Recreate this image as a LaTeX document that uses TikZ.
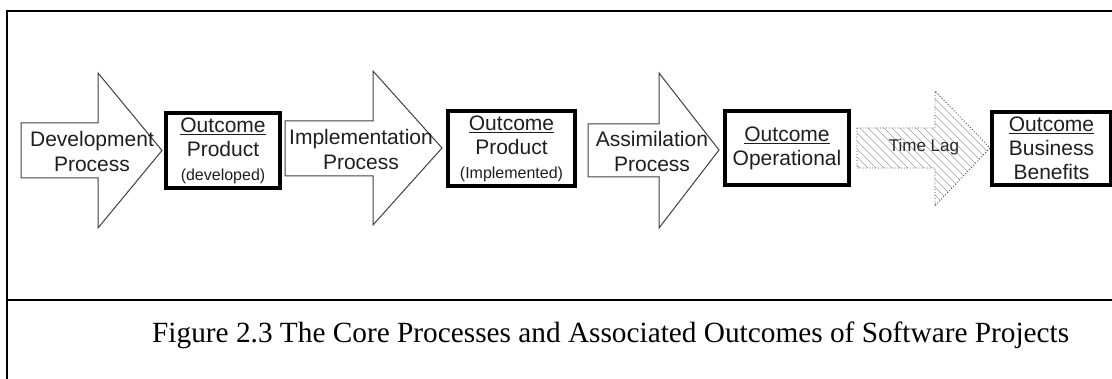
\documentclass[tikz,border=0pt]{standalone}
\usepackage{fontspec}
\setmainfont{Liberation Sans}
\newfontfamily\capfont{Liberation Serif}
\definecolor{edgegray}{HTML}{404040}
\definecolor{hatchgray}{HTML}{A0A0A0}
\begin{document}
\begin{tikzpicture}[x=1pt, y=-1pt,
  procarrow/.style={draw=edgegray, line width=1pt, line join=miter, fill=white},
  lagedge/.style={draw=edgegray, line width=0.9pt, dotted},
  hatch/.style={draw=hatchgray, line width=0.5pt},
  outcome/.style={draw=black, line width=3.5pt, rectangle, inner sep=0pt, align=center,
    text=black!88, font=\fontsize{21}{24}\selectfont},
  proclabel/.style={inner sep=0pt, align=center, text=black!88, font=\fontsize{21}{25}\selectfont},
  frame/.style={draw=black, line width=2pt}]
\useasboundingbox (0,0) rectangle (1112,379);

% outer frame and caption divider
\draw[frame] (7,379) -- (7,11) -- (1112,11);
\draw[frame] (7,300) -- (1112,300);

% process arrows
\draw[procarrow] (21,123) -- (98,123) -- (98,73) -- (162,150.5) -- (98,228) -- (98,178) -- (21,178) -- cycle;
\draw[procarrow] (285,121) -- (373,121) -- (373,71) -- (442,148) -- (373,225) -- (373,176) -- (285,176) -- cycle;
\draw[procarrow] (588,124) -- (659,124) -- (659,73) -- (719,150) -- (659,228) -- (659,177) -- (588,177) -- cycle;

% time-lag arrow: diagonal hatching clipped to the outline, dotted edge
\begin{scope}
  \clip (857,128) -- (935,128) -- (935,91) -- (990,148) -- (935,206) -- (935,168) -- (857,168) -- cycle;
  \foreach \s in {700,708,...,1000}
    \draw[hatch] (\s,80) -- ++(140,140);
\end{scope}
\draw[lagedge] (857,128) -- (935,128) -- (935,91) -- (990,148) -- (935,206) -- (935,168) -- (857,168) -- cycle;

\node[proclabel] (dev) at (92,151) {Development\\Process};
\node[proclabel] (impl) at (361,149) {Implementation\\Process};
\node[proclabel] (assim) at (652,151) {Assimilation\\Process};
\node[inner sep=0pt, text=black!85, font=\fontsize{17}{19}\selectfont] (lag) at (924,147) {Time Lag};

% outcome boxes
\node[outcome, minimum width=114pt, minimum height=75pt] (o1) at (223,150.5)
  {\underline{Outcome}\\Product\\{\fontsize{16}{18}\selectfont (developed)}};
\node[outcome, minimum width=127pt, minimum height=75pt] (o2) at (511.5,148.5)
  {\underline{Outcome}\\Product\\{\fontsize{16}{18}\selectfont (Implemented)}};
\node[outcome, minimum width=124pt, minimum height=74pt] (o3) at (787,148)
  {\underline{Outcome}\\Operational};
\node[outcome, minimum width=119pt, minimum height=73pt] (o4) at (1051.5,148.5)
  {\underline{Outcome}\\Business\\Benefits};

% caption
\node[anchor=base west, inner sep=0pt, font=\capfont\fontsize{29.3}{32}\selectfont] (cap) at (152,343)
  {Figure 2.3 The Core Processes and Associated Outcomes of Software Projects};
\end{tikzpicture}
\end{document}
